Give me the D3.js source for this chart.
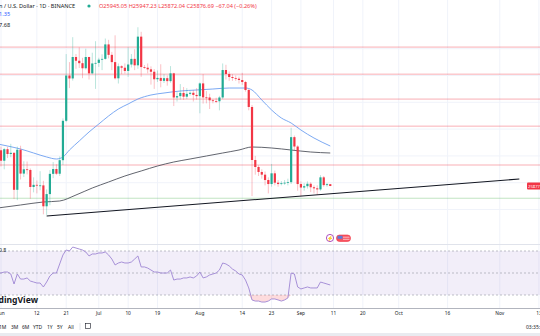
<!DOCTYPE html>
<html><head><meta charset="utf-8">
<script src="https://cdn.jsdelivr.net/npm/d3@7"></script>
<style>
html,body{margin:0;padding:0;background:#fff;overflow:hidden}
svg{display:block;font-family:"Noto Sans",Roboto,sans-serif}
</style></head><body>
<svg id="chart" width="540" height="336"></svg>
<script>
// Daily sessions from May 31 to Sep 10 (103 candles)
const firstDay = "2023-05-31";
const opens = [
  27700,27210,26820,27250,27070,27115,25735,27230,26340,26500,
  26475,25840,25920,25900,25900,25120,25575,26330,26510,26335,
  26840,28310,30000,29890,30690,30550,30460,30270,30690,30080,
  30450,30470,30590,30620,31160,30770,30500,29895,30345,30290,
  30170,30410,30620,30380,31450,30315,30290,30230,30140,29860,
  29910,29800,29900,29790,30080,29180,29230,29350,29210,29315,
  29355,29275,29230,29705,29185,29180,29075,29045,29040,29180,
  30205,30056,29944,29907,29880,29832,29757,29459,28825,26847,
  26586,26400,26300,26100,25950,26350,26000,25950,25980,26000,
  26020,27700,27350,25950,25820,25870,25960,25830,25790,25750,
  26200,25910,25945.05];
const highs = [
  27835,27346,27300,27340,27450,27130,27350,27380,26800,26790,
  26530,26200,26080,26430,26070,25750,26470,26770,26690,26980,
  28400,30800,30500,31430,30800,31050,30660,31000,30700,30850,
  31280,30660,30790,31380,31330,30880,31500,30450,30380,30450,
  31050,30800,30980,31800,31630,30390,30450,30340,30240,30190,
  30420,30050,30000,30350,30100,29380,29680,29570,29530,29410,
  29450,29530,29740,30050,29420,29320,29110,29170,29240,30450,
  30400,30150,30050,30000,29960,30100,29800,29500,28900,27000,
  26650,26500,26420,26200,26700,26450,26100,26060,26100,26150,
  28050,27760,27400,26050,25980,26050,26020,25900,25900,26280,
  26250,25990,25947.23];
const lows = [
  26838,26605,26500,26920,26950,25390,25350,26120,26210,26310,
  25400,25640,25600,25720,24820,24800,25160,26170,26290,26250,
  26660,28260,29530,29810,30250,30280,29900,30220,29850,30040,
  29500,30320,30200,30590,30640,30200,29850,29700,30050,30070,
  29950,30300,30200,30250,29950,30250,30080,29660,29500,29760,
  29560,29720,29620,29730,28860,29030,29100,29090,29120,29250,
  29030,29100,28590,28950,28960,28750,28960,28970,28700,29120,
  29850,29800,29800,29800,29700,29650,29400,28700,25500,26300,
  26250,26150,25900,25600,25850,25900,25850,25900,25920,25900,
  25950,27200,25700,25500,25700,25780,25650,25600,25550,25700,
  25850,25850,25872.04];
const closes = [
  27210,26820,27250,27070,27115,25735,27230,26340,26500,26475,
  25840,25920,25900,25900,25120,25575,26330,26510,26335,26840,
  28310,30000,29890,30690,30550,30460,30270,30690,30080,30450,
  30470,30590,30620,31160,30770,30500,29895,30345,30290,30170,
  30410,30620,30380,31450,30315,30290,30230,30140,29860,29910,
  29800,29900,29790,30080,29180,29230,29350,29210,29315,29355,
  29275,29230,29705,29185,29180,29075,29045,29040,29180,30205,
  30056,29944,29907,29880,29832,29757,29459,28825,26847,26586,
  26400,26300,26100,25950,26350,26000,25950,25980,26000,26020,
  27700,27350,25950,25820,25870,25960,25830,25790,25750,26200,
  25910,25943.73,25876.69];

// RSI(14), one value per session
const rsi = [
  50,50,50.9,50.9,49.1,40,49.1,44.5,44.5,45.5,
  42.7,41.8,40.9,40.9,37.3,41.8,47.3,50,50,58.2,
  66.4,70.9,70,73.6,72.7,71.8,70.9,69.1,65.5,67.3,
  67.3,68.2,68.2,69.1,66.4,62.7,57.3,59.1,60,59.1,
  59.1,60,62.7,65.5,55.5,55.5,54.5,52.7,50.9,50.9,
  50,50,50,52.7,43.6,44.5,44.5,45.5,45.5,46.4,
  45.5,47.3,50.9,45.5,46.4,48.2,49.1,50,52.7,59.1,
  58.2,56.4,53.6,51.8,49.1,48.2,43.6,36.4,25.5,24.5,
  24.5,23.6,23.6,24.5,26.4,26.4,25.5,24.5,25.5,27.3,
  50,49.1,37.3,35.5,36.4,37.3,36.4,36.4,36.4,41.8,
  40.9,40,39.1];

// Moving averages (date, value)
const ma50Dates = ["2023-05-31","2023-06-03","2023-06-07","2023-06-11","2023-06-15","2023-06-18","2023-06-20","2023-06-22","2023-06-25","2023-06-28","2023-07-01","2023-07-04","2023-07-07","2023-07-10","2023-07-13","2023-07-17","2023-07-21","2023-07-26","2023-07-31","2023-08-05","2023-08-10","2023-08-15","2023-08-17","2023-08-20","2023-08-23","2023-08-26","2023-08-29","2023-09-01","2023-09-05","2023-09-10"];
const ma50 = [27444,27369,27257,27108,26959,26884,26959,27220,27556,27892,28190,28489,28750,28936,29123,29272,29347,29421,29459,29496,29533,29533,29459,29086,28713,28414,28227,27966,27668,27369];
const ma200Dates = ["2023-05-31","2023-06-07","2023-06-14","2023-06-19","2023-06-24","2023-06-29","2023-07-04","2023-07-09","2023-07-14","2023-07-19","2023-07-24","2023-07-29","2023-08-03","2023-08-08","2023-08-13","2023-08-17","2023-08-23","2023-08-29","2023-09-04","2023-09-10"];
const ma200 = [25056,25168,25280,25317,25541,25802,26026,26250,26437,26623,26772,26884,26996,27108,27220,27332,27295,27220,27145,27108];

// Horizontal levels and the rising trend line
const resistanceLevels = [31060,30050,29120,28110,26660];
const supportLevel = 25420;
const trendDates = ["2023-06-15","2023-11-07"];
const trendPrices = [24760,26140];

// Time axis
const tickDates  = ["2023-06-01","2023-06-12","2023-06-21","2023-07-01","2023-07-10","2023-07-19","2023-08-01","2023-08-14","2023-08-23","2023-09-01","2023-09-11","2023-09-20","2023-10-01","2023-10-16","2023-11-01","2023-11-13"];
const tickLabels = ["Jun","12","21","Jul","10","19","Aug","14","23","Sep","11","20","Oct","16","Nov","13"];
const priceGrid = [25000,26000,27000,28000,29000,30000,31000];
const rangeButtons = ["1M","3M","6M","YTD","1Y","5Y","All"];

const parse = d3.utcParse("%Y-%m-%d");
const start = parse(firstDay);
const days = closes.map((_, i) => d3.utcDay.offset(start, i));

const svg = d3.select("#chart");
const x = d3.scaleUtc().domain([parse("2023-06-01"), parse("2023-11-13")]).range([1, 538.9]);
const y = d3.scaleLinear().domain([24000, 32000]).range([236.3, 21.9]);
const yr = d3.scaleLinear().domain([30, 70]).range([295, 251]);

const UP = "#22ab94", DOWN = "#f23645";

// Grid
const grid = svg.append("g");
grid.selectAll("line.v").data(tickDates).join("line")
  .attr("x1", d => x(parse(d))).attr("x2", d => x(parse(d)))
  .attr("y1", 0).attr("y2", 308).attr("stroke", "#f0f3fa").attr("stroke-width", 1);
grid.selectAll("line.h").data(priceGrid).join("line")
  .attr("x1", 0).attr("x2", 540).attr("y1", d => y(d)).attr("y2", d => y(d))
  .attr("stroke", "#f0f3fa");

// Horizontal levels
svg.selectAll("line.res").data(resistanceLevels).join("line")
  .attr("x1", 0).attr("x2", 540).attr("y1", d => y(d)).attr("y2", d => y(d))
  .attr("stroke", "rgba(242,54,69,0.4)").attr("stroke-width", 1);
svg.append("line").attr("x1", 0).attr("x2", 540).attr("y1", y(supportLevel)).attr("y2", y(supportLevel))
  .attr("stroke", "rgba(76,175,80,0.35)").attr("stroke-width", 1);

// Moving averages
const line = d3.line().curve(d3.curveMonotoneX);
svg.append("path").attr("d", line(ma200Dates.map((d, i) => [x(parse(d)), y(ma200[i])])))
  .attr("fill", "none").attr("stroke", "#50535e").attr("stroke-width", 0.9);
svg.append("path").attr("d", line(ma50Dates.map((d, i) => [x(parse(d)), y(ma50[i])])))
  .attr("fill", "none").attr("stroke", "#6d9ff0").attr("stroke-width", 0.9);

// Candles
const bw = 2.2;
const candles = svg.append("g").selectAll("g").data(days).join("g");
candles.append("line")
  .attr("x1", d => x(d)).attr("x2", d => x(d))
  .attr("y1", (d, i) => y(highs[i])).attr("y2", (d, i) => y(lows[i]))
  .attr("stroke", (d, i) => closes[i] >= opens[i] ? UP : DOWN).attr("stroke-opacity", 0.45).attr("stroke-width", 0.7);
candles.append("rect")
  .attr("x", d => x(d) - bw / 2).attr("width", bw)
  .attr("y", (d, i) => y(Math.max(opens[i], closes[i])))
  .attr("height", (d, i) => Math.max(0.8, Math.abs(y(opens[i]) - y(closes[i]))))
  .attr("fill", (d, i) => closes[i] >= opens[i] ? UP : DOWN);

// Trend line
svg.append("line")
  .attr("x1", x(parse(trendDates[0]))).attr("y1", y(trendPrices[0]))
  .attr("x2", x(parse(trendDates[1]))).attr("y2", y(trendPrices[1]))
  .attr("stroke", "#131722").attr("stroke-width", 1.1);

// Last price label
const n = closes.length;
const last = closes[n - 1];
svg.append("rect").attr("x", 527).attr("y", y(last) - 3.5).attr("width", 20).attr("height", 7).attr("rx", 1).attr("fill", DOWN);
svg.append("text").attr("x", 528).attr("y", y(last) + 1.7).attr("font-size", 4.2).attr("fill", "#fff").text(d3.format(".0f")(last));

// Header
const hdr = svg.append("g").attr("font-size", 5.6);
hdr.append("text").attr("x", -1).attr("y", 8).attr("fill", "#131722").text("n / U.S. Dollar · 1D · BINANCE");
hdr.append("circle").attr("cx", 89).attr("cy", 6).attr("r", 1.6).attr("fill", UP);
const o = opens[n - 1], h = highs[n - 1], l = lows[n - 1];
const chg = last - closes[n - 2];
const sgn = v => v.toFixed(2).replace("-", "−");
hdr.append("text").attr("x", 99).attr("y", 8).attr("fill", DOWN)
  .text(`O${o.toFixed(2)} H${h.toFixed(2)} L${l.toFixed(2)} C${last.toFixed(2)} ${sgn(chg)} (${sgn(chg / closes[n - 2] * 100)}%)`);
hdr.append("text").attr("x", -1).attr("y", 16).attr("fill", "#2962ff").text("1.35");
hdr.append("text").attr("x", -1).attr("y", 27).attr("fill", "#131722").text("7.68");

// Event markers
svg.append("circle").attr("cx", 330).attr("cy", 238).attr("r", 3.6).attr("fill", "#fff").attr("stroke", "#9c27b0").attr("stroke-width", 0.8);
svg.append("text").attr("x", 330).attr("y", 240).attr("text-anchor", "middle").attr("font-size", 5).attr("fill", "#9c27b0").text("⚡");
svg.append("rect").attr("x", 336.5).attr("y", 235).attr("width", 14).attr("height", 6.5).attr("rx", 3).attr("fill", "#f7525f").attr("stroke", "#f23645").attr("stroke-width", 0.6);
svg.append("rect").attr("x", 337.5).attr("y", 235.8).attr("width", 5).attr("height", 3).attr("fill", "#5b7bd8");
[237.2, 239.3].forEach(v => svg.append("line").attr("x1", 343).attr("x2", 349.5).attr("y1", v).attr("y2", v).attr("stroke", "#fff").attr("stroke-width", 0.6));

// Pane separators
svg.append("line").attr("x1", 0).attr("x2", 540).attr("y1", 244.5).attr("y2", 244.5).attr("stroke", "#e0e3eb");
svg.append("line").attr("x1", 0).attr("x2", 540).attr("y1", 308.5).attr("y2", 308.5).attr("stroke", "#b2b5be");
svg.append("rect").attr("x", 0).attr("y", 333).attr("width", 540).attr("height", 3).attr("fill", "#e9ebf0");

// RSI pane
svg.append("rect").attr("x", 0).attr("y", yr(70)).attr("width", 540).attr("height", yr(30) - yr(70)).attr("fill", "rgba(126,87,194,0.1)");
[70, 50, 30].forEach(v => svg.append("line").attr("x1", 0).attr("x2", 540).attr("y1", yr(v)).attr("y2", yr(v))
  .attr("stroke", "#9598a1").attr("stroke-width", 0.6).attr("stroke-dasharray", "2,2"));
const rsiPts = rsi.map((v, i) => [x(days[i]), yr(v)]);
const oversold = d3.area().x(d => d[0]).y0(yr(30)).y1(d => Math.max(d[1], yr(30)));
svg.append("path").attr("d", oversold(rsiPts)).attr("fill", "rgba(242,54,69,0.18)");
svg.append("path").attr("d", d3.line()(rsiPts)).attr("fill", "none").attr("stroke", "#9e86d4").attr("stroke-width", 0.9);
svg.append("text").attr("x", -1).attr("y", 252).attr("font-size", 5.2).attr("fill", "#131722").text("0.8");
svg.append("text").attr("x", 38).attr("y", 303).attr("text-anchor", "end").attr("font-size", 8.6).attr("font-weight", 700).attr("fill", "#131722").text("TradingView");

// Time axis labels
svg.selectAll("text.t").data(tickDates).join("text")
  .attr("x", d => x(parse(d))).attr("y", 315).attr("text-anchor", "middle")
  .attr("font-size", 4.8).attr("fill", "#131722").text((d, i) => tickLabels[i]);

// Bottom toolbar
const btnX = [-1, 11, 22, 33, 47, 57, 68];
svg.selectAll("text.b").data(rangeButtons).join("text")
  .attr("x", (d, i) => btnX[i]).attr("y", 329).attr("font-size", 5).attr("fill", "#131722").text(d => d);
svg.append("line").attr("x1", 80).attr("x2", 80).attr("y1", 323).attr("y2", 330).attr("stroke", "#d1d4dc").attr("stroke-width", 0.6);
svg.append("rect").attr("x", 85.5).attr("y", 323.5).attr("width", 5).attr("height", 5).attr("fill", "none").attr("stroke", "#131722").attr("stroke-width", 0.6);
svg.append("text").attr("x", 526).attr("y", 329).attr("font-size", 5).attr("fill", "#131722").text("03:35:12");
</script>
</body></html>
